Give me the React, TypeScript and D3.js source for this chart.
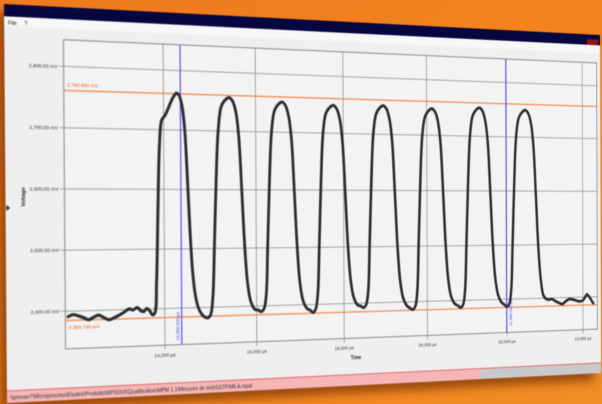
import React from 'react';
import * as d3 from 'd3';

// ---------- data ----------
const timeUs = [
  12000, 12100, 12200, 12300, 12420, 12520, 12620, 12720, 12830, 12940, 13040, 13150, 13250, 13330, 13420, 13500, 13560, 13620, 13690, 13740,
  13790, 13830, 13870, 13910, 13960, 14030, 14110, 14200, 14280, 14340, 14400, 14450, 14500, 14550, 14600, 14650, 14710, 14780, 14850, 14925,
  14985, 15035, 15075, 15125, 15175, 15245, 15345, 15415, 15495, 15565, 15625, 15685, 15745, 15805, 15875, 15965, 16035, 16105,
  16165, 16215, 16255, 16305, 16355, 16425, 16525, 16595, 16675, 16745, 16805, 16865, 16925, 16985, 17055, 17145, 17215, 17280,
  17340, 17390, 17430, 17480, 17530, 17600, 17700, 17770, 17850, 17920, 17980, 18040, 18100, 18160, 18230, 18320, 18390, 18460,
  18520, 18570, 18610, 18660, 18710, 18780, 18880, 18950, 19030, 19100, 19160, 19220, 19280, 19340, 19410, 19500, 19570, 19640,
  19700, 19750, 19790, 19840, 19890, 19960, 20060, 20130, 20210, 20280, 20340, 20400, 20460, 20520, 20590, 20680, 20750, 20825,
  20885, 20935, 20975, 21025, 21075, 21145, 21245, 21315, 21395, 21465, 21525, 21585, 21645, 21705, 21775, 21865, 21935, 22000,
  22060, 22110, 22150, 22200, 22250, 22320, 22420, 22490, 22570, 22640, 22700, 22760, 22820, 22880, 22950,
  23030, 23100, 23170, 23260, 23370, 23450, 23540, 23640, 23720, 23780, 23850, 23920, 24000, 24060, 24110, 24160, 24200, 24240, 24280,
];
const voltageMv = [
  2391, 2394, 2392, 2389, 2385, 2389, 2392, 2388, 2384, 2387, 2391, 2396, 2401, 2399, 2403, 2397, 2396, 2401, 2396, 2390,
  2393, 2445, 2570, 2675, 2716, 2724, 2738, 2754, 2762, 2757, 2738, 2700, 2620, 2530, 2462, 2425, 2402, 2390, 2384, 2382,
  2387, 2415, 2500, 2622, 2702, 2742, 2754, 2757, 2751, 2732, 2690, 2598, 2500, 2438, 2407, 2394, 2393, 2390,
  2395, 2417, 2502, 2620, 2700, 2737, 2749, 2752, 2746, 2727, 2688, 2596, 2498, 2436, 2406, 2393, 2390, 2386,
  2392, 2418, 2503, 2621, 2700, 2735, 2746, 2749, 2743, 2725, 2686, 2596, 2499, 2440, 2410, 2397, 2395, 2392,
  2397, 2420, 2504, 2622, 2701, 2736, 2748, 2751, 2745, 2726, 2687, 2595, 2497, 2437, 2407, 2393, 2389, 2386,
  2391, 2416, 2500, 2619, 2698, 2733, 2745, 2748, 2742, 2724, 2685, 2594, 2497, 2437, 2407, 2394, 2391, 2387,
  2392, 2417, 2502, 2620, 2700, 2737, 2749, 2752, 2746, 2727, 2688, 2596, 2498, 2438, 2408, 2394, 2390, 2386,
  2391, 2416, 2500, 2618, 2699, 2735, 2747, 2750, 2744, 2725, 2684, 2592, 2495, 2436, 2405,
  2398, 2397, 2398, 2394, 2390, 2388, 2393, 2397, 2396, 2395, 2393, 2392, 2394, 2400, 2405, 2401, 2397, 2392, 2388,
];
const xTicks = [14000, 16000, 18000, 20000, 22000, 24000];
const yTicks = [2400, 2500, 2600, 2700, 2800];
const hCursorValues = [2760.89, 2384.79];
const hCursorLabels = ['2,760.890 mV', '2,384.790 mV'];
const vCursorValues = [14360, 21990];
const vCursorLabels = ['14,360.000 µs', '21,990.000 µs'];
const menuItems = ['File', '?'];
const statusPath = String.raw`\\pmvae7\Microprocess\Etudes\Produits\MPS0XX\Qualification\MPM 1.1\Mesures de test\SSTP\M6 A.mpal`;

// ---------- perspective (flat window -> photo) ----------
const WIN_W = 1280;
const WIN_H = 720;
const QUAD: number[][] = [[4, 4], [600, 35], [601, 373], [7, 403]];

function squareToQuad(q: number[][]) {
  const [[x0, y0], [x1, y1], [x2, y2], [x3, y3]] = q;
  const dx1 = x1 - x2, dx2 = x3 - x2, dx3 = x0 - x1 + x2 - x3;
  const dy1 = y1 - y2, dy2 = y3 - y2, dy3 = y0 - y1 + y2 - y3;
  const den = dx1 * dy2 - dx2 * dy1;
  const g = (dx3 * dy2 - dx2 * dy3) / den;
  const h = (dx1 * dy3 - dx3 * dy1) / den;
  const a = x1 - x0 + g * x1, b = x3 - x0 + h * x3, c = x0;
  const d = y1 - y0 + g * y1, e = y3 - y0 + h * y3, f = y0;
  return [a / WIN_W, b / WIN_H, c, d / WIN_W, e / WIN_H, f, g / WIN_W, h / WIN_H, 1];
}
function inv3(m: number[]) {
  const [a, b, c, d, e, f, g, h, i] = m;
  const A = e * i - f * h, B = -(d * i - f * g), C = d * h - e * g;
  const D = -(b * i - c * h), E = a * i - c * g, Fv = -(a * h - b * g);
  const G = b * f - c * e, Hh = -(a * f - c * d), I = a * e - b * d;
  const det = a * A + b * B + c * C;
  return [A / det, D / det, G / det, B / det, E / det, Hh / det, C / det, Fv / det, I / det];
}
const HM = squareToQuad(QUAD);
const HI = inv3(HM);
function F(sx: number, sy: number): [number, number] {
  const u = HI[0] * sx + HI[1] * sy + HI[2];
  const v = HI[3] * sx + HI[4] * sy + HI[5];
  const w = HI[6] * sx + HI[7] * sy + HI[8];
  return [u / w, v / w];
}

const FONT = "'Liberation Sans', Arial, sans-serif";

export default function App() {
  const [a, b, c, d, e, f, g, h] = HM;
  const matrix = `matrix3d(${a},${d},0,${g},${b},${e},0,${h},0,0,1,0,${c},${f},0,1)`;

  // layout (flat coordinates) from photo landmarks
  const pl = (F(63, 37)[0] + F(66, 350)[0]) / 2;
  const pr = (F(597, 63)[0] + F(597, 328)[0]) / 2;
  const pt = (F(63, 37)[1] + F(520, 62)[1]) / 2;
  const pb = (F(66, 350)[1] + F(520, 331)[1]) / 2;
  const titleBottom = F(100, 21)[1];
  const menuBottom = titleBottom + 17;
  const statusTop = (F(10, 392)[1] + F(150, 383)[1]) / 2;
  const grayStart = F(480, 368)[0];

  const x = d3.scaleLinear().domain([14000, 24000]).range([F(165, 346)[0], F(583, 330)[0]]);
  const y = d3.scaleLinear().domain([2400, 2800]).range([
    (F(63, 312)[1] + F(600, 296)[1]) / 2,
    (F(63, 65)[1] + F(540, 85)[1]) / 2,
  ]);

  const pts: [number, number][] = timeUs.map((t, i) => [t, voltageMv[i]]);
  const line = d3.line<[number, number]>()
    .x((p) => x(p[0]))
    .y((p) => y(p[1]))
    .curve(d3.curveCatmullRom.alpha(0.5));

  const fx = d3.format(',');
  const fy = d3.format(',.2f');

  const [vlx, vly] = F(25, 197);
  const [tlx, tly] = F(356, 359);
  const [arx, ary] = F(8, 208);
  const [cb1, cb2] = [F(587, 39), F(598, 47)];
  const [m1x, m1y] = F(8, 24.5);

  const shadow = QUAD.map(([px, py]) => `${px - 7},${py + 8}`).join(' ');

  return (
    <div style={{ position: 'relative', width: 602, height: 404, overflow: 'hidden' }}>
      <style>{`body{margin:0}`}</style>
      <svg width={602} height={404} style={{ position: 'absolute', left: 0, top: 0 }}>
        <defs>
          <linearGradient id="bg" x1="0" y1="0" x2="1" y2="1">
            <stop offset="0" stopColor="#ee7a1f" />
            <stop offset="0.6" stopColor="#f3861f" />
            <stop offset="1" stopColor="#f28c25" />
          </linearGradient>
          <filter id="sh" x="-20%" y="-20%" width="140%" height="140%">
            <feGaussianBlur stdDeviation="5" />
          </filter>
        </defs>
        <rect width={602} height={404} fill="url(#bg)" />
        <polygon points={shadow} fill="#5e2405" opacity={0.6} filter="url(#sh)" />
      </svg>
      <svg
        width={WIN_W}
        height={WIN_H}
        style={{
          position: 'absolute', left: 0, top: 0, transformOrigin: '0 0', transform: matrix,
          filter: 'blur(0.9px)',
        }}
      >
        <defs>
          <clipPath id="plotclip">
            <rect x={pl} y={pt} width={pr - pl} height={pb - pt} />
          </clipPath>
        </defs>
        {/* window */}
        <rect x={0} y={0} width={WIN_W} height={WIN_H} fill="#efefef" />
        <rect x={0} y={0} width={WIN_W} height={titleBottom} fill="#07073f" />
        <rect x={cb1[0]} y={cb1[1]} width={cb2[0] - cb1[0]} height={cb2[1] - cb1[1]} fill="#8e1414" />
        <rect x={0} y={titleBottom} width={WIN_W} height={menuBottom - titleBottom} fill="#f7f7f7" />
        {menuItems.map((m, i) => (
          <text key={m} x={m1x + i * 30} y={m1y} fontSize={10} fontFamily={FONT} fill="#222">{m}</text>
        ))}
        {/* plot background */}
        <rect x={pl} y={pt} width={pr - pl} height={pb - pt} fill="#f3f3f3" />
        {/* gridlines */}
        {yTicks.map((v) => (
          <g key={v}>
            <line x1={pl - 8} x2={pr} y1={y(v)} y2={y(v)} stroke="#9a9a9a" strokeWidth={1.8} />
            <text x={pl - 11} y={y(v) + 3.5} textAnchor="end" fontSize={9.5} fontFamily={FONT} fill="#333">{fy(v)} mV</text>
          </g>
        ))}
        {xTicks.map((t) => (
          <g key={t}>
            <line x1={x(t)} x2={x(t)} y1={pt} y2={pb + 8} stroke="#9a9a9a" strokeWidth={1.8} />
            <text x={x(t)} y={pb + 22} textAnchor="middle" fontSize={9.5} fontFamily={FONT} fill="#333">{fx(t)} µs</text>
          </g>
        ))}
        <rect x={pl} y={pt} width={pr - pl} height={pb - pt} fill="none" stroke="#8a8a8a" strokeWidth={2} />
        {/* axis titles */}
        <text x={vlx} y={vly} transform={`rotate(-90 ${vlx} ${vly})`} textAnchor="middle" fontSize={10} fontWeight="bold" fontFamily={FONT} fill="#222">Voltage</text>
        <text x={tlx} y={tly} textAnchor="middle" fontSize={10} fontWeight="bold" fontFamily={FONT} fill="#222">Time</text>
        <path d={`M${arx - 3},${ary - 5}L${arx + 4},${ary}L${arx - 3},${ary + 5}Z`} fill="#222" />
        {/* cursors */}
        <g clipPath="url(#plotclip)">
          {hCursorValues.map((v) => (
            <line key={v} x1={pl} x2={pr} y1={y(v)} y2={y(v)} stroke="#f48a4c" strokeWidth={2.6} />
          ))}
          {vCursorValues.map((t) => (
            <line key={t} x1={x(t)} x2={x(t)} y1={pt} y2={pb} stroke="#5555f2" strokeWidth={2.4} />
          ))}
          <path d={line(pts) || ''} fill="none" stroke="#2c2c33" strokeWidth={5.8} strokeLinejoin="round" strokeLinecap="round" />
        </g>
        <text x={pl + 6} y={y(hCursorValues[0]) - 7} fontSize={9.5} fontFamily={FONT} fill="#f05a2a">{hCursorLabels[0]}</text>
        <text x={pl + 6} y={y(hCursorValues[1]) + 16} fontSize={9.5} fontFamily={FONT} fill="#f05a2a">{hCursorLabels[1]}</text>
        {(() => {
          const x0 = x(vCursorValues[0]) - 5;
          const y0 = pb - 8;
          return (
            <text x={x0} y={y0} transform={`rotate(-90 ${x0} ${y0})`} fontSize={8.5} fontFamily={FONT} fill="#3b3bf0">{vCursorLabels[0]}</text>
          );
        })()}
        {(() => {
          const x0 = x(vCursorValues[1]) + 13;
          const y0 = pb - 14;
          return (
            <text x={x0} y={y0} transform={`rotate(-90 ${x0} ${y0})`} fontSize={8.5} fontFamily={FONT} fill="#3b3bf0">{vCursorLabels[1]}</text>
          );
        })()}
        {/* status bar */}
        <rect x={0} y={statusTop} width={grayStart} height={WIN_H - statusTop} fill="#f6b6b8" />
        <rect x={grayStart} y={statusTop} width={WIN_W - grayStart} height={WIN_H - statusTop} fill="#c9c9c9" />
        <line x1={0} x2={WIN_W} y1={statusTop} y2={statusTop} stroke="#e26a6a" strokeWidth={2} />
        <text x={6} y={statusTop + (WIN_H - statusTop) * 0.72} fontSize={10} fontFamily={FONT} fill="#333">{statusPath}</text>
      </svg>
    </div>
  );
}
